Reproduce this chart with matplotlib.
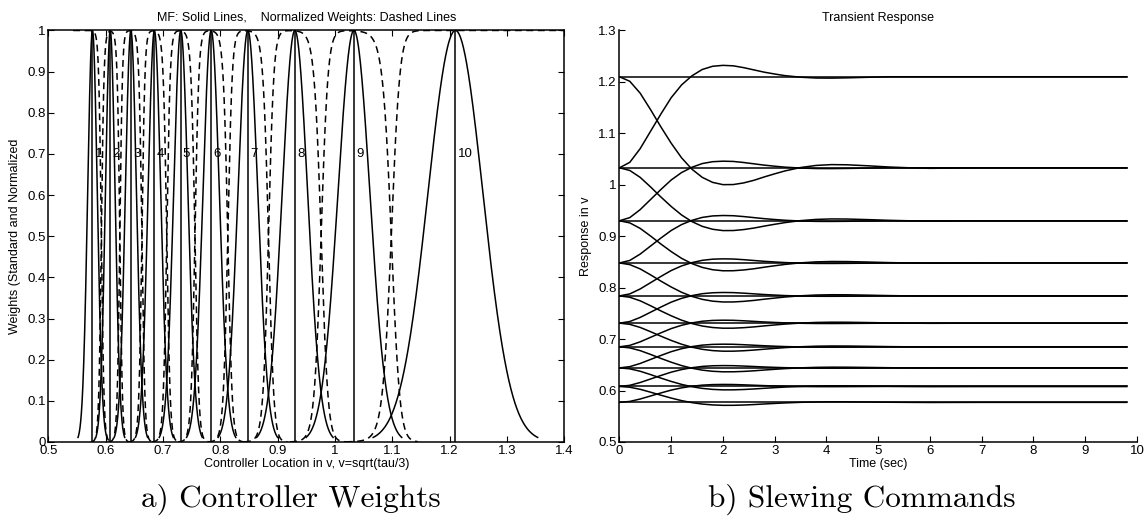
import numpy as np
import matplotlib
matplotlib.use("Agg")
import matplotlib.pyplot as plt
from matplotlib.ticker import FuncFormatter

plt.rcParams["font.family"] = ["Liberation Sans", "DejaVu Sans"]

# Controller centres (v = sqrt(tau/3)) and Gaussian membership widths
centers = [0.577, 0.608, 0.644, 0.685, 0.731, 0.784, 0.848, 0.930, 1.033, 1.210]
widths = [0.0084, 0.0084, 0.0097, 0.0110, 0.0125, 0.0143, 0.0173, 0.0222, 0.0278, 0.0478]
controller_ids = ["1", "2", "3", "4", "5", "6", "7", "8", "9", "10"]

# Slewing transients: fraction of the commanded step completed vs time
resp_t = [0.0, 0.2, 0.4, 0.6, 0.8, 1.0, 1.2, 1.4, 1.6, 1.8, 2.0, 2.2, 2.4, 2.6,
          2.8, 3.0, 3.2, 3.5, 3.8, 4.1, 4.4, 4.8, 5.2, 5.6, 6.0, 6.5, 7.0, 9.8]
rise_frac = [0.0, 0.06, 0.21, 0.40, 0.59, 0.77, 0.91, 1.01, 1.08, 1.115, 1.125, 1.12, 1.10, 1.075,
             1.05, 1.03, 1.012, 0.995, 0.986, 0.985, 0.988, 0.994, 1.0, 1.0, 1.0, 1.0, 1.0, 1.0]
fall_frac = [0.0, 0.05, 0.18, 0.36, 0.55, 0.73, 0.89, 1.015, 1.105, 1.16, 1.185, 1.184, 1.166, 1.137,
             1.10, 1.066, 1.034, 0.997, 0.974, 0.965, 0.967, 0.978, 0.991, 1.0, 1.006, 1.003, 1.0, 1.0]

fig = plt.figure(figsize=(11.45, 5.17), dpi=100)
ax1 = fig.add_axes([0.0422, 0.1451, 0.4507, 0.796])
ax2 = fig.add_axes([0.5410, 0.1451, 0.4520, 0.796])

lw = 1.1
fmt = FuncFormatter(lambda v, p: "%g" % round(v, 2))

# ---- a) membership functions and normalized weights
c = np.array(centers)
s = np.array(widths)
for ci, si, lab in zip(centers, widths, controller_ids):
    x = np.linspace(ci - 3 * si, ci + 3 * si, 400)
    mf = np.exp(-(x - ci) ** 2 / (2 * si ** 2))
    ax1.plot(x, mf, color="black", lw=lw)

    xw = np.linspace(ci - 4 * si, ci + 4 * si, 500)
    num = np.exp(-(xw - ci) ** 2 / (2 * si ** 2))
    total = np.exp(-(xw[:, None] - c[None, :]) ** 2 / (2 * s[None, :] ** 2)).sum(axis=1)
    ax1.plot(xw, num / total, color="black", lw=lw, dashes=(4.5, 3))

    ax1.plot([ci, ci], [0, 1], color="black", lw=lw)
    ax1.annotate(lab, (ci, 0.7), xytext=(1.5, 0), textcoords="offset points",
                 ha="left", va="center", fontsize=9.5)

ax1.set_xlim(0.5, 1.4)
ax1.set_ylim(0, 1)
ax1.set_xticks(np.arange(0.5, 1.41, 0.1))
ax1.set_yticks(np.arange(0, 1.01, 0.1))
ax1.xaxis.set_major_formatter(fmt)
ax1.yaxis.set_major_formatter(fmt)
ax1.tick_params(direction="in", top=True, right=True, length=4, width=0.8, labelsize=9.5, pad=2)
ax1.set_title("MF: Solid Lines,    Normalized Weights: Dashed Lines", fontsize=9, pad=7)
ax1.set_xlabel("Controller Location in v, v=sqrt(tau/3)", fontsize=9, labelpad=1)
ax1.set_ylabel("Weights (Standard and Normalized", fontsize=9, labelpad=4)
for sp in ax1.spines.values():
    sp.set_linewidth(1.1)

# ---- b) transient responses between neighbouring controller locations
levels = sorted(centers)
t = np.array(resp_t)
rf = np.array(rise_frac)
ff = np.array(fall_frac)
for lev in levels:
    ax2.plot([t[0], t[-1]], [lev, lev], color="black", lw=lw)
for lo, hi in zip(levels[:-1], levels[1:]):
    ax2.plot(t, lo + (hi - lo) * rf, color="black", lw=lw)
    ax2.plot(t, hi - (hi - lo) * ff, color="black", lw=lw)

ax2.set_xlim(0, 10)
ax2.set_ylim(0.5, 1.3)
ax2.set_xticks(np.arange(0, 11, 1))
ax2.set_yticks(np.arange(0.5, 1.31, 0.1))
ax2.xaxis.set_major_formatter(fmt)
ax2.yaxis.set_major_formatter(fmt)
ax2.spines["top"].set_visible(False)
ax2.spines["right"].set_visible(False)
ax2.tick_params(direction="in", length=4, width=0.8, labelsize=9.5, pad=2)
ax2.set_title("Transient Response", fontsize=9, pad=7)
ax2.set_xlabel("Time (sec)", fontsize=9, labelpad=1)
ax2.set_ylabel("Response in v", fontsize=9, labelpad=4)
for sp in ax2.spines.values():
    sp.set_linewidth(1.1)

# captions
fig.text(0.254, 0.02, "a) Controller Weights", family="cmr10", fontsize=22.5, ha="center", va="baseline")
fig.text(0.753, 0.02, "b) Slewing Commands", family="cmr10", fontsize=22.5, ha="center", va="baseline")

fig.savefig("out.png", dpi=100)
